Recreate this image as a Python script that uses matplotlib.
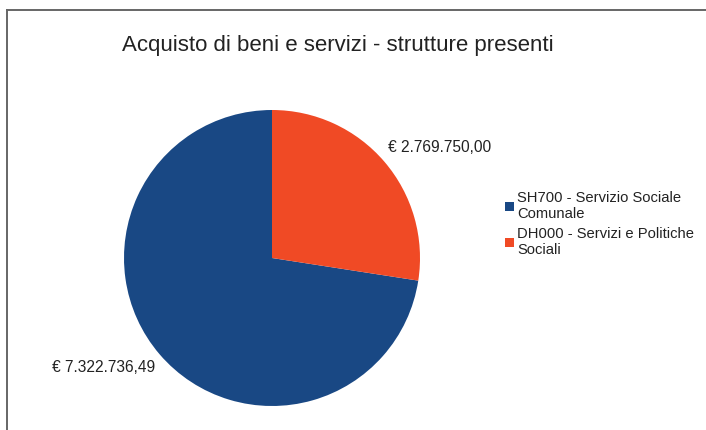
import matplotlib
matplotlib.use('Agg')
import matplotlib.pyplot as plt
from matplotlib.lines import Line2D

plt.rcParams['font.family'] = ['Liberation Sans', 'DejaVu Sans']

# data
categories = ['SH700 - Servizio Sociale\nComunale',
              'DH000 - Servizi e Politiche\nSociali']
values = [7322736.49, 2769750.00]
value_labels = ['€ 7.322.736,49', '€ 2.769.750,00']
colors = ['#194884', '#f04a25']
title = 'Acquisto di beni e servizi - strutture presenti'

W, H = 706, 430
fig = plt.figure(figsize=(W / 100, H / 100), dpi=100)
ax = fig.add_axes([0, 0, 1, 1])

# pie: blue starts at 12 o'clock, runs counter-clockwise
wedges, _ = ax.pie(values, colors=colors, startangle=90, counterclock=True,
                   center=(272, H - 258), radius=148,
                   wedgeprops=dict(linewidth=0))
ax.set_xlim(0, W)
ax.set_ylim(0, H)          # 1 data unit == 1 pixel, y measured from bottom
ax.set_axis_off()

# value labels
ax.text(104, H - 367, value_labels[0], ha='center', va='center', fontsize=11.2, color='#222222')
ax.text(440, H - 148, value_labels[1], ha='center', va='center', fontsize=11.2, color='#222222')

ax.text(338, H - 45, title, ha='center', va='center', fontsize=16, color='#222222')

ax.legend(wedges, categories, loc='upper left', bbox_to_anchor=(499 / W, 1 - 185 / H),
          frameon=False, fontsize=10.6, handlelength=0.6, handleheight=0.6,
          handletextpad=0.25, labelspacing=0.4, borderaxespad=0, labelcolor='#222222')

# outer frame (top and left edges visible)
fig.add_artist(Line2D([7 / W, 1], [1 - 9.5 / H, 1 - 9.5 / H], transform=fig.transFigure,
                      color='#666666', lw=1.4))
fig.add_artist(Line2D([7 / W, 7 / W], [0, 1 - 9.5 / H], transform=fig.transFigure,
                      color='#666666', lw=1.4))

fig.savefig('out.png', dpi=100)
plt.close(fig)
